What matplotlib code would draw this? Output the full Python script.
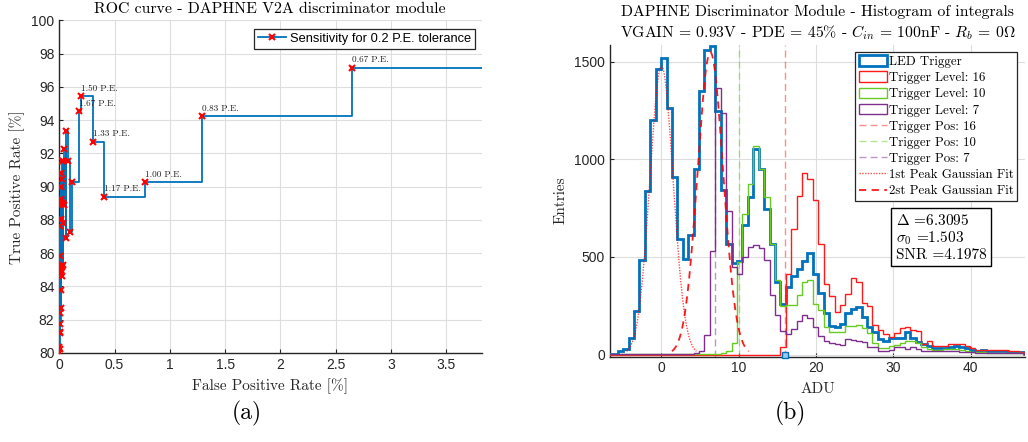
import numpy as np
import matplotlib
matplotlib.use("Agg")
import matplotlib.pyplot as plt
from matplotlib.patches import Patch
from matplotlib.lines import Line2D
from matplotlib.ticker import FormatStrFormatter

plt.rcParams["mathtext.fontset"] = "cm"
plt.rcParams["axes.unicode_minus"] = False

SERIF = "cmr10"
SANS = "Liberation Sans"
AX_GRAY = "#262626"
GRID = "#dedede"

BLUE = "#0072BD"
RED = "#FF1A1A"
GREEN = "#66CC22"
PURPLE = "#7E2F8E"

# ---------------- ROC curve data (ordered by decreasing threshold) ----------------
roc_fpr = [0.000, 0.001, 0.002, 0.003, 0.004, 0.006, 0.007, 0.008, 0.010, 0.011,
           0.012, 0.013, 0.014, 0.015, 0.016, 0.017, 0.018, 0.019, 0.020, 0.021,
           0.022, 0.024, 0.026, 0.028, 0.030, 0.032, 0.034, 0.036, 0.040, 0.045,
           0.057, 0.063, 0.076, 0.097, 0.118, 0.175, 0.199, 0.302, 0.401, 0.778,
           1.290, 2.644, 4.950]
roc_tpr = [80.02, 80.38, 80.25, 82.43, 81.28, 85.83, 81.20, 87.64, 81.74, 88.04,
           82.69, 90.80, 83.79, 90.00, 84.80, 89.24, 85.00, 89.10, 85.15, 88.96,
           85.23, 90.44, 84.63, 91.56, 85.30, 89.00, 87.84, 91.56, 88.90, 92.25,
           86.90, 93.35, 91.56, 87.26, 90.30, 94.53, 95.44, 92.71, 89.40, 90.26,
           94.25, 97.16, 98.40]
# thresholds (in P.E.) of the last points of the curve
pe_thresholds = [1.67, 1.50, 1.33, 1.17, 1.00, 0.83, 0.67, 0.50]

# ---------------- Histogram data ----------------
bin_width = 0.7
first_bin = -10          # index of the first bin (left edge = first_bin * bin_width)
led_counts = [3, 5, 17, 29, 86, 222, 482, 836, 1200, 1460,
              1520, 1264, 910, 593, 487, 614, 952, 1351, 1560, 1580,
              1247, 841, 566, 467, 480, 665, 807, 1051, 950, 747,
              568, 371, 260, 345, 400, 440, 480, 520, 410, 315,
              212, 145, 140, 155, 215, 235, 245, 190, 140, 115,
              80, 72, 86, 86, 86, 115, 86, 63, 55, 46,
              34, 34, 34, 41, 46, 38, 34, 24, 20, 22,
              20, 18, 20, 18, 15, 14, 12]
trig16_counts = [0] * 32 + [40, 410, 641, 812, 930, 901, 790, 564,
              363, 300, 217, 255, 311, 393, 371, 262, 251, 149,
              127, 103, 92, 109, 137, 140, 128, 120, 55, 67,
              46, 46, 46, 55, 55, 55, 46, 34, 24, 22,
              24, 24, 24, 24, 17, 17, 12]
trig10_counts = [3] * 21 + [10, 17, 60, 474, 722, 872, 1067, 952, 807,
              568, 380, 251, 256, 256, 303, 371, 380, 260, 226,
              140, 115, 115, 115, 144, 144, 149, 137, 109, 60,
              35, 34, 46, 50, 60, 70, 67, 60, 40, 30,
              25, 25, 27, 27, 30, 25, 20, 15, 12, 12,
              10, 10, 10, 9, 8, 8, 8]
trig7_counts = [3] * 16 + [8, 20, 98, 532, 1366, 1235, 737, 450, 410, 500,
              551, 559, 547, 482, 303, 203, 123, 103, 132, 174,
              205, 188, 140, 97, 72, 58, 55, 51, 80, 75,
              72, 63, 41, 41, 20, 20, 25, 40, 40, 30,
              38, 30, 20, 17, 17, 20, 17, 17, 20, 15,
              12, 12, 10, 10, 10, 9, 8, 8, 8, 8, 8]

trigger_levels = [16, 10, 7]
trigger_colors = [RED, GREEN, PURPLE]

# Gaussian fits of the first two peaks
fit1_mu, fit1_sigma, fit1_amp = 0.05, 1.503, 1477
delta = 6.3095
fit2_sigma, fit2_amp = 1.65, 1548
snr = 4.1978

fig = plt.figure(figsize=(10.28, 4.42), dpi=100)


def style_axes(ax):
    for side in ("top", "right"):
        ax.spines[side].set_visible(False)
    for side in ("left", "bottom"):
        ax.spines[side].set_color(AX_GRAY)
        ax.spines[side].set_linewidth(1.0)
    ax.tick_params(direction="in", length=3, width=0.8, colors=AX_GRAY,
                   labelsize=10)
    for lab in ax.get_xticklabels() + ax.get_yticklabels():
        lab.set_fontfamily(SANS)
    ax.grid(True, color=GRID, lw=0.8)
    ax.set_axisbelow(True)


# ================= (a) ROC curve =================
ax1 = fig.add_axes([0.0577, 0.2014, 0.4109, 0.7523])
ax1.plot(roc_fpr, roc_tpr, drawstyle="steps-post", color=BLUE, lw=1.3,
         marker="x", mec="red", mfc="red", ms=4, mew=1.5,
         label="Sensitivity for 0.2 P.E. tolerance", zorder=3)
n_lab = len(pe_thresholds)
for fx, ty, pe in zip(roc_fpr[-n_lab:], roc_tpr[-n_lab:], pe_thresholds):
    ax1.annotate(f"{pe:.2f} P.E.", (fx, ty), xytext=(0, 4),
                 textcoords="offset points", ha="left", va="baseline",
                 fontsize=6.6, fontfamily=SERIF, color="#222222")
ax1.set_xlim(0, 3.82)
ax1.set_ylim(80, 100)
ax1.set_xticks(np.arange(0, 3.6, 0.5))
ax1.set_yticks(np.arange(80, 101, 2))
ax1.xaxis.set_major_formatter(FormatStrFormatter("%g"))
style_axes(ax1)
leg1 = ax1.legend(loc="upper right", bbox_to_anchor=(0.984, 0.9745),
                  borderaxespad=0, fancybox=False, framealpha=1,
                  edgecolor=AX_GRAY, prop={"family": SANS, "size": 9.3},
                  handlelength=2.2, handletextpad=0.3, borderpad=0.3)
leg1.get_frame().set_linewidth(0.9)

fig.text(270 / 1028, 1 - 12.7 / 442,
         "ROC curve - DAPHNE V2A discriminator module",
         ha="center", va="baseline", fontsize=11.4, fontfamily=SERIF)
fig.text(270 / 1028, 1 - 390 / 442, "False Positive Rate [%]",
         ha="center", va="baseline", fontsize=11, fontfamily=SERIF,
         color=AX_GRAY)
fig.text(17.5 / 1028, 1 - 187 / 442, "True Positive Rate [%]",
         ha="center", va="center", rotation=90, fontsize=11,
         fontfamily=SERIF, color=AX_GRAY)
fig.text(247 / 1028, 1 - 413 / 442, "(a)", ha="center", va="center",
         fontsize=17, fontfamily=SERIF)

# ================= (b) Histogram of integrals =================
ax2 = fig.add_axes([0.5934, 0.1934, 0.4037, 0.7048])
edges = (np.arange(len(led_counts) + 1) + first_bin) * bin_width

ax2.stairs(led_counts, edges, color=BLUE, lw=2.0, zorder=3)
ax2.stairs(trig16_counts, edges, color=RED, lw=1.0, zorder=3)
ax2.stairs(trig10_counts, edges, color=GREEN, lw=1.0, zorder=3)
ax2.stairs(trig7_counts, edges, color=PURPLE, lw=1.0, zorder=3)

for lvl, col in zip(trigger_levels, trigger_colors):
    ax2.axvline(lvl, color=col, alpha=0.5, ls=(0, (5, 3)), lw=1.0, zorder=2)

x1 = np.linspace(fit1_mu - 3 * fit1_sigma, fit1_mu + 3 * fit1_sigma, 300)
ax2.plot(x1, fit1_amp * np.exp(-0.5 * ((x1 - fit1_mu) / fit1_sigma) ** 2),
         color="red", ls=(0, (1, 1)), lw=1.0, alpha=0.7, zorder=4)
fit2_mu = fit1_mu + delta
x2 = np.linspace(fit2_mu - 3 * fit2_sigma, fit2_mu + 3 * fit2_sigma, 300)
ax2.plot(x2, fit2_amp * np.exp(-0.5 * ((x2 - fit2_mu) / fit2_sigma) ** 2),
         color="red", ls=(0, (4, 3)), lw=1.3, alpha=0.9, zorder=4)

ax2.plot([trigger_levels[0]], [0], marker="s", ms=4, mfc="#9ecbea",
         mec=BLUE, mew=1.0, clip_on=False, zorder=5)

ax2.set_xlim(-6.6, 47)
ax2.set_ylim(-10, 1585)
ax2.set_xticks([0, 10, 20, 30, 40])
ax2.set_yticks([0, 500, 1000, 1500])
style_axes(ax2)

handles = [
    Patch(facecolor="none", edgecolor=BLUE, lw=2.0, label="LED Trigger"),
    Patch(facecolor="none", edgecolor=RED, lw=1.0, label="Trigger Level: 16"),
    Patch(facecolor="none", edgecolor=GREEN, lw=1.0, label="Trigger Level: 10"),
    Patch(facecolor="none", edgecolor=PURPLE, lw=1.0, label="Trigger Level: 7"),
    Line2D([], [], color=RED, alpha=0.5, ls=(0, (5, 3)), lw=1.0,
           label="Trigger Pos: 16"),
    Line2D([], [], color=GREEN, alpha=0.5, ls=(0, (5, 3)), lw=1.0,
           label="Trigger Pos: 10"),
    Line2D([], [], color=PURPLE, alpha=0.5, ls=(0, (5, 3)), lw=1.0,
           label="Trigger Pos: 7"),
    Line2D([], [], color="red", alpha=0.7, ls=(0, (1, 1)), lw=1.0,
           label="1st Peak Gaussian Fit"),
    Line2D([], [], color="red", alpha=0.9, ls=(0, (4, 3)), lw=1.3,
           label="2st Peak Gaussian Fit"),
]
leg2 = ax2.legend(handles=handles, loc="upper right",
                  bbox_to_anchor=(0.981, 0.9775), borderaxespad=0,
                  fancybox=False, framealpha=1, edgecolor=AX_GRAY,
                  prop={"family": SERIF, "size": 9.3}, labelspacing=0.26,
                  handlelength=2.2, handleheight=0.9, handletextpad=0.15,
                  borderpad=0.25)
leg2.get_frame().set_linewidth(0.9)

sigma0 = fit1_sigma
stats = (f"$\\Delta$ ={delta:.4f}\n$\\sigma_0$ ={sigma0:.3f}\nSNR ={snr:.4f}")
ax2.text(0.688, 0.462, stats, transform=ax2.transAxes, ha="left", va="top",
         fontsize=11, fontfamily=SERIF, linespacing=1.12, zorder=6,
         bbox=dict(boxstyle="square,pad=0.3", facecolor="white",
                   edgecolor="black", lw=1.0))

fig.text(817.5 / 1028, 1 - 16 / 442,
         "DAPHNE Discriminator Module - Histogram of integrals",
         ha="center", va="baseline", fontsize=11.3, fontfamily=SERIF)
fig.text(817.5 / 1028, 1 - 37.5 / 442,
         "VGAIN = 0.93V - PDE = 45% - $C_{in}$ = 100nF - $R_b$ = 0$\\Omega$",
         ha="center", va="baseline", fontsize=11.3, fontfamily=SERIF)
fig.text(817.5 / 1028, 1 - 393 / 442, "ADU", ha="center", va="baseline",
         fontsize=11, fontfamily=SERIF, color=AX_GRAY)
fig.text(561 / 1028, 1 - 200 / 442, "Entries", ha="center", va="center",
         rotation=90, fontsize=11, fontfamily=SERIF, color=AX_GRAY)
fig.text(790 / 1028, 1 - 413 / 442, "(b)", ha="center", va="center",
         fontsize=17, fontfamily=SERIF)

fig.savefig("out.png", dpi=100)
